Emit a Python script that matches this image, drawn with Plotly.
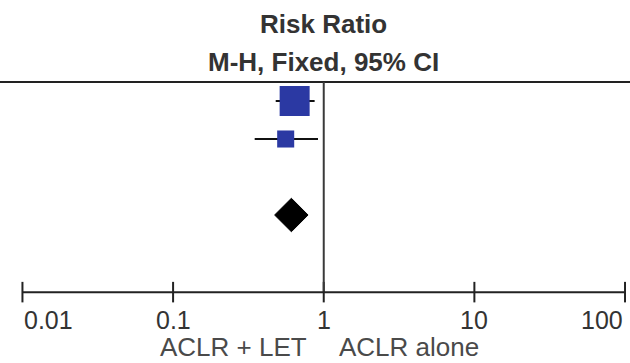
import math
import plotly.graph_objects as go

# ---- data ----
study_rr = [0.641, 0.559]
study_low = [0.48, 0.348]
study_high = [0.87, 0.916]
study_weight = [75.6, 24.4]
study_rows = [1, 2]

pooled_rr = 0.61
pooled_low = 0.472
pooled_high = 0.787
pooled_row = 4

tick_vals = [0.01, 0.1, 1, 10, 100]
tick_text = ["0.01", "0.1", "1", "10", "100"]
favours_left = "ACLR + LET"
favours_right = "ACLR alone"
title_1 = "Risk Ratio"
title_2 = "M-H, Fixed, 95% CI"

# ---- layout constants ----
W, H = 630, 363
X_RANGE = [-2.149, 2.033]
Y_RANGE = [7.895, -1.658]
TOP_ROW = 0.5
AXIS_ROW = 6.03
SQ_BLUE = "#2b39a3"
TXT = "#333333"
FONT = "Liberation Sans, Arial"

fig = go.Figure()

# CI lines for studies
for r, lo, hi in zip(study_rows, study_low, study_high):
    fig.add_trace(go.Scatter(x=[lo, hi], y=[r, r], mode="lines",
                             line=dict(color="#111111", width=2),
                             hoverinfo="skip", showlegend=False))

# squares (size from weight)
max_w = max(study_weight)
sizes = [30 * math.sqrt(w / max_w) for w in study_weight]
fig.add_trace(go.Scatter(x=study_rr, y=study_rows, mode="markers",
                         marker=dict(symbol="square", size=sizes, color=SQ_BLUE,
                                     opacity=1, line=dict(width=0)),
                         showlegend=False))

# pooled diamond
h = 0.44
fig.add_trace(go.Scatter(
    x=[pooled_low, pooled_rr, pooled_high, pooled_rr, pooled_low],
    y=[pooled_row, pooled_row - h, pooled_row, pooled_row + h, pooled_row],
    mode="lines", fill="toself", fillcolor="black",
    line=dict(color="black", width=1), showlegend=False, hoverinfo="skip"))

# axis ticks (crossing the axis line)
tx, ty = [], []
for v in tick_vals:
    tx += [v, v, None]
    ty += [AXIS_ROW - 0.27, AXIS_ROW + 0.27, None]
fig.add_trace(go.Scatter(x=tx, y=ty, mode="lines",
                         line=dict(color="#222222", width=2),
                         hoverinfo="skip", showlegend=False))

shapes = [
    dict(type="line", xref="paper", yref="y", x0=0, x1=1, y0=TOP_ROW, y1=TOP_ROW,
         line=dict(color="#222222", width=2)),
    dict(type="line", xref="x", yref="y", x0=1, x1=1, y0=TOP_ROW, y1=AXIS_ROW,
         line=dict(color="#3a3a3a", width=2)),
    dict(type="line", xref="x", yref="y", x0=tick_vals[0], x1=tick_vals[-1],
         y0=AXIS_ROW, y1=AXIS_ROW, line=dict(color="#222222", width=2)),
]

annotations = []
anchors = ["left", "center", "center", "center", "right"]
for v, t, a in zip(tick_vals, tick_text, anchors):
    annotations.append(dict(x=math.log10(v), y=AXIS_ROW, xref="x", yref="y",
                            text=t, showarrow=False, xanchor=a, yanchor="middle",
                            yshift=-28, font=dict(size=25, color=TXT, family=FONT)))
annotations.append(dict(x=0, y=AXIS_ROW, xref="x", yref="y", text=favours_left,
                        showarrow=False, xanchor="right", yanchor="bottom",
                        xshift=-16, yshift=-71, borderpad=0,
                        font=dict(size=26, color="#4a4a4a", family=FONT)))
annotations.append(dict(x=0, y=AXIS_ROW, xref="x", yref="y", text=favours_right,
                        showarrow=False, xanchor="left", yanchor="bottom",
                        xshift=14, yshift=-71, borderpad=0,
                        font=dict(size=26, color="#4a4a4a", family=FONT)))
annotations.append(dict(x=0, y=1 - 24 / H, xref="x", yref="paper", yanchor="middle",
                        text="<b>" + title_1 + "</b>", showarrow=False,
                        font=dict(size=26, color=TXT, family=FONT)))
annotations.append(dict(x=0, y=1 - 62 / H, xref="x", yref="paper", yanchor="middle",
                        text="<b>" + title_2 + "</b>", showarrow=False,
                        font=dict(size=26, color=TXT, family=FONT)))

fig.update_layout(
    width=W, height=H,
    margin=dict(l=0, r=0, t=0, b=0),
    paper_bgcolor="white", plot_bgcolor="white",
    xaxis=dict(type="log", range=X_RANGE, visible=False, fixedrange=True),
    yaxis=dict(range=Y_RANGE, visible=False, fixedrange=True),
    shapes=shapes, annotations=annotations, showlegend=False,
)

fig.write_html("out.html", config={"displayModeBar": False},
               post_script="document.body.style.margin='0';document.body.style.overflow='hidden';")
